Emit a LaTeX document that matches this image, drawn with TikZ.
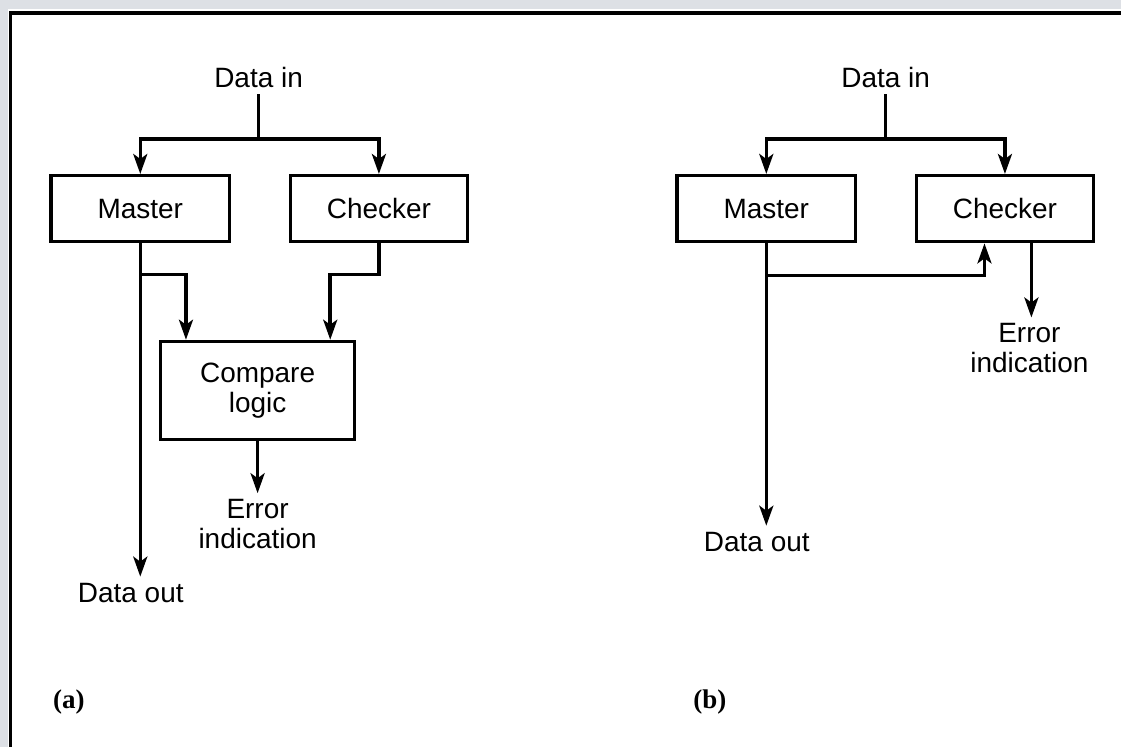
\documentclass[tikz,border=0pt]{standalone}
\usepackage{fontspec}
\setmainfont{Liberation Sans}
\newfontfamily\partfont{Liberation Serif}
\usetikzlibrary{arrows.meta}
\definecolor{pagegray}{RGB}{221,224,229}

\tikzset{
  unit/.style={draw, line width=3.5pt, minimum height=66pt, inner sep=0pt,
    font=\fontsize{28}{30}\selectfont},
  sig/.style={inner sep=6pt, align=center, font=\fontsize{28}{30}\selectfont},
  part/.style={inner sep=0pt, font=\fontsize{27}{30}\selectfont\partfont\bfseries},
  wire/.style={line width=3.5pt},
  feed/.style={wire, -{Stealth[length=20pt,width=14pt,inset=5pt]}}
}

\begin{document}
\begin{tikzpicture}[x=1pt, y=-1pt]
    \fill[pagegray] (0,0) rectangle (1123,748);
    \fill[white] (8,9) rectangle (1123,748);
    \draw[line width=3.5pt] (10.5,748) -- (10.5,13) -- (1123,13);
    \useasboundingbox (0,0) rectangle (1123,748);

    % (a) master and checker feeding the compare logic
    \node[sig, anchor=base] (datainA) at (259,88) {Data in};
    \node[unit, minimum width=179pt] (masterA) at (140.5,209) {Master};
    \node[unit, minimum width=177pt] (checkerA) at (379.5,209) {Checker};
    \node[unit, minimum width=194pt, minimum height=98pt, align=center]
      (compare) at (258,391) {Compare\\logic};
    \node[sig, anchor=north] (errorA) at (258,494) {Error\\indication};
    \node[sig, anchor=base] (dataoutA) at (131,603) {Data out};
    \node[part, anchor=base] (partA) at (69,710) {(a)};
    \coordinate (splitA) at (259,139);
    \coordinate (tapA) at (140.5,275);

    \draw[wire] (datainA.south) -- (splitA);
    \draw[feed] (splitA) -| (masterA.north);
    \draw[feed] (splitA) -| (checkerA.north);
    \draw[feed] (masterA.south) -- (masterA.south |- dataoutA.north);
    \draw[feed] (tapA) -| ([xshift=27pt]compare.north west);
    \draw[feed] (checkerA.south) -- (checkerA.south |- tapA)
      -| ([xshift=-26pt]compare.north east);
    \draw[feed] (compare.south) -- (errorA.north);

    % (b) checker does its own comparison
    \node[sig, anchor=base] (datainB) at (887,88) {Data in};
    \node[unit, minimum width=179pt] (masterB) at (767.5,209) {Master};
    \node[unit, minimum width=177pt] (checkerB) at (1006.5,209) {Checker};
    \node[sig, anchor=north] (errorB) at (1031,318) {Error\\indication};
    \node[sig, anchor=base] (dataoutB) at (758,552) {Data out};
    \node[part, anchor=base] (partB) at (711,710) {(b)};
    \coordinate (splitB) at (887,139);
    \coordinate (tapB) at (767.5,276);

    \draw[wire] (datainB.south) -- (splitB);
    \draw[feed] (splitB) -| (masterB.north);
    \draw[feed] (splitB) -| (checkerB.north);
    \draw[feed] (masterB.south) -- (masterB.south |- dataoutB.north);
    \draw[feed] (tapB) -| ([xshift=-20.5pt]checkerB.south);
    \draw[feed] ([xshift=26.5pt]checkerB.south)
      -- ([xshift=26.5pt]checkerB.south |- errorB.north);
\end{tikzpicture}
\end{document}
